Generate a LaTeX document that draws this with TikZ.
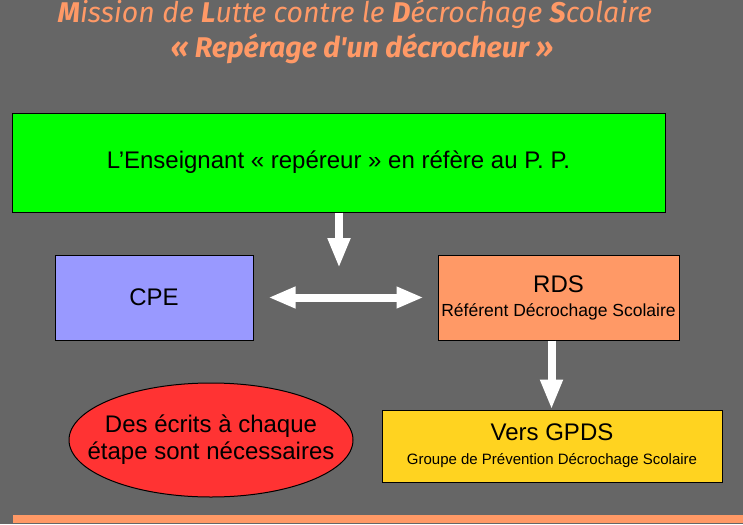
\documentclass[tikz,border=0pt]{standalone}
\usepackage{fontspec}
\setmainfont{Liberation Sans}
\newfontfamily\titlefont{Fira Sans}
\usetikzlibrary{arrows.meta,shapes.geometric}

\definecolor{fondgris}{HTML}{666666}
\definecolor{orangetitre}{HTML}{FF9966}
\definecolor{vertvif}{HTML}{00FF00}
\definecolor{mauve}{HTML}{9999FF}
\definecolor{saumon}{HTML}{FF9966}
\definecolor{rouge}{HTML}{FF3333}
\definecolor{jaune}{HTML}{FFD320}

\tikzset{
  boite/.style={draw=black, line width=1pt, inner sep=0pt, align=center,
    font=\fontsize{24}{28}\selectfont},
  fleche/.style={draw=white, line width=8pt,
    -{Triangle[width=21pt,length=30pt]}},
  doublefleche/.style={draw=white, line width=8pt,
    {Triangle[width=20pt,length=27pt]}-{Triangle[width=20pt,length=27pt]}},
  titre/.style={text=orangetitre, font=\titlefont\itshape\fontsize{28.5}{32}\selectfont}
}

\begin{document}
\begin{tikzpicture}[x=1pt,y=-1pt]
        \useasboundingbox (0,0) rectangle (743,524);
        % Fond
        \fill[fondgris] (0,0) rectangle (743,524);
        \fill[saumon] (13,515) rectangle (743,523);

        % Titre
        \node[titre] (titre1) at (355,14) {{\bfseries M}ission de {\bfseries L}utte contre le {\bfseries D}écrochage {\bfseries S}colaire};
        \node[titre, font=\titlefont\bfseries\itshape\fontsize{28.5}{32}\selectfont] (titre2) at (362,49) {« Repérage d'un décrocheur »};

        % Boites
        \node[boite, fill=vertvif, minimum width=653pt, minimum height=99pt] (ens) at (338.5,162.5)
          {L'Enseignant « repéreur » en réfère au P. P.};
        \node[boite, fill=mauve, minimum width=198pt, minimum height=85pt] (cpe) at (154,297.5) {CPE};
        \node[boite, fill=saumon, minimum width=241pt, minimum height=85pt] (rds) at (558.5,297.5)
          {RDS\\[-4pt]{\fontsize{17.5}{20}\selectfont Référent Décrochage Scolaire}};
        \node[boite, fill=jaune, minimum width=340pt, minimum height=72pt] (gpds) at (552,446)
          {Vers GPDS\\[-4pt]{\fontsize{15}{18}\selectfont Groupe de Prévention Décrochage Scolaire}};
        \node[boite, ellipse, fill=rouge, minimum width=284pt, minimum height=114pt] (ecrits) at (211,440) {};
        \node[align=center, font=\fontsize{24}{27}\selectfont] (ecritstxt) at (ecrits.center)
          {Des écrits à chaque\\étape sont nécessaires};

        % Fleches
        \coordinate (milieu) at (339,268);
        \draw[fleche] (ens.south -| milieu) -- (milieu);
        \draw[doublefleche] ([xshift=15pt]cpe.east) -- ([xshift=-14pt]rds.west);
        \draw[fleche] ([xshift=-7pt]rds.south) -- ([xshift=-7pt]rds.south |- gpds.north);
    \end{tikzpicture}
\end{document}
